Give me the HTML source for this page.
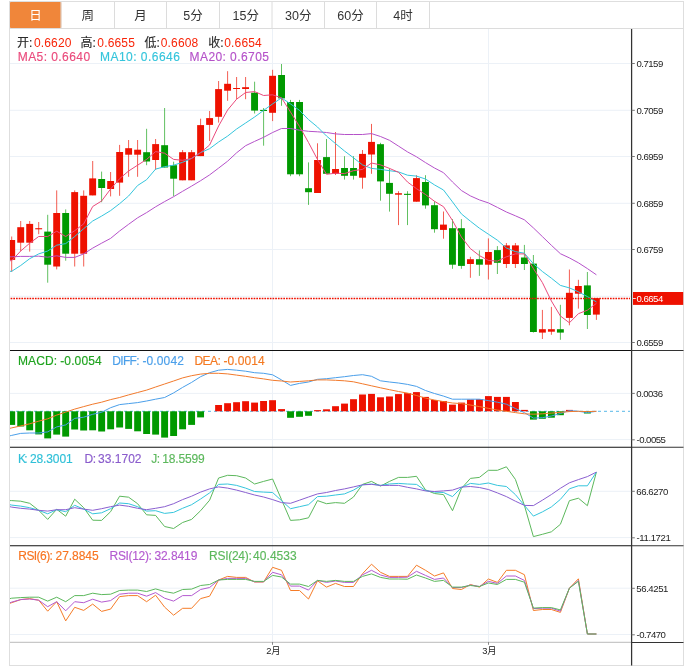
<!DOCTYPE html><html><head><meta charset="utf-8"><title>AUD/USD</title>
<style>html,body{margin:0;padding:0;background:#fff}svg{display:block;will-change:transform}text{font-family:"Liberation Sans","Noto Sans CJK SC",sans-serif}</style></head><body>
<svg width="692" height="671" viewBox="0 0 692 671">
<rect width="692" height="671" fill="#fff"/>
<rect x="9.5" y="1.5" width="674" height="664" fill="none" stroke="#dedede" stroke-width="1"/>
<line x1="9.5" y1="28.5" x2="683.5" y2="28.5" stroke="#dcdcdc"/>
<rect x="10" y="2" width="51.3" height="26" rx="0.8" fill="#f0863a"/>
<line x1="61" y1="2" x2="61" y2="28" stroke="#dcdcdc"/>
<line x1="114.5" y1="2" x2="114.5" y2="28" stroke="#dcdcdc"/>
<line x1="166.5" y1="2" x2="166.5" y2="28" stroke="#dcdcdc"/>
<line x1="219.5" y1="2" x2="219.5" y2="28" stroke="#dcdcdc"/>
<line x1="272" y1="2" x2="272" y2="28" stroke="#dcdcdc"/>
<line x1="324.5" y1="2" x2="324.5" y2="28" stroke="#dcdcdc"/>
<line x1="376.5" y1="2" x2="376.5" y2="28" stroke="#dcdcdc"/>
<line x1="429.5" y1="2" x2="429.5" y2="28" stroke="#dcdcdc"/>
<text x="35.5" y="20" font-size="12.5" text-anchor="middle" fill="#fff">日</text>
<text x="87.8" y="20" font-size="12.5" text-anchor="middle" fill="#333">周</text>
<text x="140.5" y="20" font-size="12.5" text-anchor="middle" fill="#333">月</text>
<text x="193.0" y="20" font-size="12.5" text-anchor="middle" fill="#333">5分</text>
<text x="245.8" y="20" font-size="12.5" text-anchor="middle" fill="#333">15分</text>
<text x="298.2" y="20" font-size="12.5" text-anchor="middle" fill="#333">30分</text>
<text x="350.5" y="20" font-size="12.5" text-anchor="middle" fill="#333">60分</text>
<text x="403.0" y="20" font-size="12.5" text-anchor="middle" fill="#333">4时</text>
<defs><clipPath id="cp"><rect x="10" y="29" width="621.5" height="614"/></clipPath></defs>
<line x1="10" y1="63.5" x2="631" y2="63.5" stroke="#ecf1f7" stroke-width="1"/>
<line x1="10" y1="110.3" x2="631" y2="110.3" stroke="#ecf1f7" stroke-width="1"/>
<line x1="10" y1="156.5" x2="631" y2="156.5" stroke="#ecf1f7" stroke-width="1"/>
<line x1="10" y1="203.3" x2="631" y2="203.3" stroke="#ecf1f7" stroke-width="1"/>
<line x1="10" y1="249.5" x2="631" y2="249.5" stroke="#ecf1f7" stroke-width="1"/>
<line x1="10" y1="296.3" x2="631" y2="296.3" stroke="#ecf1f7" stroke-width="1"/>
<line x1="10" y1="342.5" x2="631" y2="342.5" stroke="#ecf1f7" stroke-width="1"/>
<line x1="10" y1="393.4" x2="631" y2="393.4" stroke="#ecf1f7" stroke-width="1"/>
<line x1="10" y1="439.6" x2="631" y2="439.6" stroke="#ecf1f7" stroke-width="1"/>
<line x1="10" y1="491.3" x2="631" y2="491.3" stroke="#ecf1f7" stroke-width="1"/>
<line x1="10" y1="537.6" x2="631" y2="537.6" stroke="#ecf1f7" stroke-width="1"/>
<line x1="10" y1="588.2" x2="631" y2="588.2" stroke="#ecf1f7" stroke-width="1"/>
<line x1="10" y1="634.5" x2="631" y2="634.5" stroke="#ecf1f7" stroke-width="1"/>
<line x1="272.5" y1="29" x2="272.5" y2="642" stroke="#ecf1f7" stroke-width="1"/>
<line x1="488.5" y1="29" x2="488.5" y2="642" stroke="#ecf1f7" stroke-width="1"/>
<g clip-path="url(#cp)">
<line x1="11.7" y1="236.5" x2="11.7" y2="271.9" stroke="#ee1100" stroke-width="1" stroke-opacity="0.68"/>
<rect x="8.25" y="240.0" width="6.9" height="19.9" fill="#ee1100"/>
<line x1="20.7" y1="221.0" x2="20.7" y2="251.0" stroke="#ee1100" stroke-width="1" stroke-opacity="0.68"/>
<rect x="17.25" y="227.2" width="6.9" height="15.5" fill="#ee1100"/>
<line x1="29.7" y1="221.0" x2="29.7" y2="251.6" stroke="#ee1100" stroke-width="1" stroke-opacity="0.68"/>
<rect x="26.24" y="223.9" width="6.9" height="18.8" fill="#ee1100"/>
<line x1="38.7" y1="222.0" x2="38.7" y2="234.2" stroke="#ee1100" stroke-width="1" stroke-opacity="0.68"/>
<rect x="35.23" y="228.2" width="6.9" height="1.1" fill="#ee1100"/>
<line x1="47.7" y1="214.8" x2="47.7" y2="282.7" stroke="#009900" stroke-width="1" stroke-opacity="0.62"/>
<rect x="44.23" y="231.6" width="6.9" height="33.1" fill="#009900"/>
<line x1="56.7" y1="190.4" x2="56.7" y2="269.4" stroke="#ee1100" stroke-width="1" stroke-opacity="0.68"/>
<rect x="53.22" y="213.0" width="6.9" height="53.5" fill="#ee1100"/>
<line x1="65.7" y1="209.4" x2="65.7" y2="260.7" stroke="#009900" stroke-width="1" stroke-opacity="0.62"/>
<rect x="62.22" y="213.0" width="6.9" height="40.7" fill="#009900"/>
<line x1="74.7" y1="190.4" x2="74.7" y2="266.5" stroke="#ee1100" stroke-width="1" stroke-opacity="0.68"/>
<rect x="71.21" y="192.1" width="6.9" height="61.6" fill="#ee1100"/>
<line x1="83.7" y1="190.4" x2="83.7" y2="266.5" stroke="#ee1100" stroke-width="1" stroke-opacity="0.68"/>
<rect x="80.21" y="195.8" width="6.9" height="57.9" fill="#ee1100"/>
<line x1="92.7" y1="161.0" x2="92.7" y2="195.4" stroke="#ee1100" stroke-width="1" stroke-opacity="0.68"/>
<rect x="89.20" y="178.4" width="6.9" height="17.0" fill="#ee1100"/>
<line x1="101.6" y1="171.6" x2="101.6" y2="202.2" stroke="#009900" stroke-width="1" stroke-opacity="0.62"/>
<rect x="98.20" y="179.0" width="6.9" height="9.0" fill="#009900"/>
<line x1="110.6" y1="172.0" x2="110.6" y2="196.4" stroke="#ee1100" stroke-width="1" stroke-opacity="0.68"/>
<rect x="107.19" y="181.0" width="6.9" height="8.0" fill="#ee1100"/>
<line x1="119.6" y1="144.9" x2="119.6" y2="195.8" stroke="#ee1100" stroke-width="1" stroke-opacity="0.68"/>
<rect x="116.19" y="152.0" width="6.9" height="30.6" fill="#ee1100"/>
<line x1="128.6" y1="140.0" x2="128.6" y2="176.8" stroke="#ee1100" stroke-width="1" stroke-opacity="0.68"/>
<rect x="125.18" y="148.2" width="6.9" height="6.5" fill="#ee1100"/>
<line x1="137.6" y1="140.0" x2="137.6" y2="176.8" stroke="#ee1100" stroke-width="1" stroke-opacity="0.68"/>
<rect x="134.18" y="149.7" width="6.9" height="5.0" fill="#ee1100"/>
<line x1="146.6" y1="128.8" x2="146.6" y2="165.2" stroke="#009900" stroke-width="1" stroke-opacity="0.62"/>
<rect x="143.17" y="152.2" width="6.9" height="9.3" fill="#009900"/>
<line x1="155.6" y1="139.0" x2="155.6" y2="170.0" stroke="#ee1100" stroke-width="1" stroke-opacity="0.68"/>
<rect x="152.17" y="144.1" width="6.9" height="15.9" fill="#ee1100"/>
<line x1="164.6" y1="108.0" x2="164.6" y2="167.5" stroke="#009900" stroke-width="1" stroke-opacity="0.62"/>
<rect x="161.16" y="145.2" width="6.9" height="22.3" fill="#009900"/>
<line x1="173.6" y1="161.7" x2="173.6" y2="196.2" stroke="#009900" stroke-width="1" stroke-opacity="0.62"/>
<rect x="170.16" y="165.2" width="6.9" height="13.5" fill="#009900"/>
<line x1="182.6" y1="150.0" x2="182.6" y2="180.3" stroke="#ee1100" stroke-width="1" stroke-opacity="0.68"/>
<rect x="179.15" y="152.2" width="6.9" height="28.1" fill="#ee1100"/>
<line x1="191.6" y1="150.0" x2="191.6" y2="180.3" stroke="#ee1100" stroke-width="1" stroke-opacity="0.68"/>
<rect x="188.15" y="152.2" width="6.9" height="28.1" fill="#ee1100"/>
<line x1="200.6" y1="118.7" x2="200.6" y2="156.1" stroke="#ee1100" stroke-width="1" stroke-opacity="0.68"/>
<rect x="197.14" y="125.1" width="6.9" height="31.0" fill="#ee1100"/>
<line x1="209.6" y1="111.0" x2="209.6" y2="141.0" stroke="#ee1100" stroke-width="1" stroke-opacity="0.68"/>
<rect x="206.14" y="118.1" width="6.9" height="6.8" fill="#ee1100"/>
<line x1="218.6" y1="81.0" x2="218.6" y2="122.6" stroke="#ee1100" stroke-width="1" stroke-opacity="0.68"/>
<rect x="215.13" y="89.1" width="6.9" height="27.7" fill="#ee1100"/>
<line x1="227.6" y1="71.2" x2="227.6" y2="100.8" stroke="#ee1100" stroke-width="1" stroke-opacity="0.68"/>
<rect x="224.13" y="83.8" width="6.9" height="6.9" fill="#ee1100"/>
<line x1="236.6" y1="77.0" x2="236.6" y2="99.2" stroke="#ee1100" stroke-width="1" stroke-opacity="0.68"/>
<rect x="233.12" y="88.0" width="6.9" height="1.0" fill="#ee1100"/>
<line x1="245.6" y1="77.0" x2="245.6" y2="99.2" stroke="#ee1100" stroke-width="1" stroke-opacity="0.68"/>
<rect x="242.12" y="87.2" width="6.9" height="1.8" fill="#ee1100"/>
<line x1="254.6" y1="81.7" x2="254.6" y2="113.5" stroke="#009900" stroke-width="1" stroke-opacity="0.62"/>
<rect x="251.11" y="92.7" width="6.9" height="17.9" fill="#009900"/>
<line x1="263.6" y1="108.0" x2="263.6" y2="145.7" stroke="#009900" stroke-width="1" stroke-opacity="0.62"/>
<rect x="260.11" y="109.9" width="6.9" height="1.1" fill="#009900"/>
<line x1="272.6" y1="69.8" x2="272.6" y2="121.1" stroke="#ee1100" stroke-width="1" stroke-opacity="0.68"/>
<rect x="269.10" y="75.8" width="6.9" height="37.0" fill="#ee1100"/>
<line x1="281.5" y1="64.0" x2="281.5" y2="105.8" stroke="#009900" stroke-width="1" stroke-opacity="0.62"/>
<rect x="278.10" y="75.0" width="6.9" height="23.4" fill="#009900"/>
<line x1="290.5" y1="99.9" x2="290.5" y2="176.2" stroke="#009900" stroke-width="1" stroke-opacity="0.62"/>
<rect x="287.09" y="102.0" width="6.9" height="72.3" fill="#009900"/>
<line x1="299.5" y1="99.9" x2="299.5" y2="176.2" stroke="#009900" stroke-width="1" stroke-opacity="0.62"/>
<rect x="296.09" y="102.0" width="6.9" height="72.3" fill="#009900"/>
<line x1="308.5" y1="162.4" x2="308.5" y2="204.9" stroke="#009900" stroke-width="1" stroke-opacity="0.62"/>
<rect x="305.08" y="188.2" width="6.9" height="4.0" fill="#009900"/>
<line x1="317.5" y1="143.3" x2="317.5" y2="193.0" stroke="#ee1100" stroke-width="1" stroke-opacity="0.68"/>
<rect x="314.08" y="160.0" width="6.9" height="33.0" fill="#ee1100"/>
<line x1="326.5" y1="139.0" x2="326.5" y2="173.8" stroke="#009900" stroke-width="1" stroke-opacity="0.62"/>
<rect x="323.07" y="157.1" width="6.9" height="16.7" fill="#009900"/>
<line x1="335.5" y1="132.0" x2="335.5" y2="175.0" stroke="#ee1100" stroke-width="1" stroke-opacity="0.68"/>
<rect x="332.07" y="169.0" width="6.9" height="4.8" fill="#ee1100"/>
<line x1="344.5" y1="156.2" x2="344.5" y2="179.6" stroke="#009900" stroke-width="1" stroke-opacity="0.62"/>
<rect x="341.06" y="168.0" width="6.9" height="7.8" fill="#009900"/>
<line x1="353.5" y1="156.2" x2="353.5" y2="179.6" stroke="#009900" stroke-width="1" stroke-opacity="0.62"/>
<rect x="350.06" y="168.0" width="6.9" height="7.8" fill="#009900"/>
<line x1="362.5" y1="150.0" x2="362.5" y2="188.7" stroke="#ee1100" stroke-width="1" stroke-opacity="0.68"/>
<rect x="359.05" y="153.9" width="6.9" height="23.8" fill="#ee1100"/>
<line x1="371.5" y1="123.9" x2="371.5" y2="173.8" stroke="#ee1100" stroke-width="1" stroke-opacity="0.68"/>
<rect x="368.05" y="141.9" width="6.9" height="12.6" fill="#ee1100"/>
<line x1="380.5" y1="142.8" x2="380.5" y2="200.7" stroke="#009900" stroke-width="1" stroke-opacity="0.62"/>
<rect x="377.04" y="144.2" width="6.9" height="37.2" fill="#009900"/>
<line x1="389.5" y1="168.4" x2="389.5" y2="211.6" stroke="#009900" stroke-width="1" stroke-opacity="0.62"/>
<rect x="386.04" y="182.9" width="6.9" height="10.9" fill="#009900"/>
<line x1="398.5" y1="191.2" x2="398.5" y2="225.1" stroke="#ee1100" stroke-width="1" stroke-opacity="0.68"/>
<rect x="395.03" y="193.2" width="6.9" height="1.5" fill="#ee1100"/>
<line x1="407.5" y1="191.2" x2="407.5" y2="225.1" stroke="#009900" stroke-width="1" stroke-opacity="0.62"/>
<rect x="404.03" y="193.8" width="6.9" height="1.1" fill="#009900"/>
<line x1="416.5" y1="175.2" x2="416.5" y2="201.7" stroke="#ee1100" stroke-width="1" stroke-opacity="0.68"/>
<rect x="413.02" y="178.1" width="6.9" height="23.6" fill="#ee1100"/>
<line x1="425.5" y1="175.2" x2="425.5" y2="208.7" stroke="#009900" stroke-width="1" stroke-opacity="0.62"/>
<rect x="422.02" y="182.0" width="6.9" height="23.4" fill="#009900"/>
<line x1="434.5" y1="201.3" x2="434.5" y2="232.7" stroke="#009900" stroke-width="1" stroke-opacity="0.62"/>
<rect x="431.01" y="205.2" width="6.9" height="24.0" fill="#009900"/>
<line x1="443.5" y1="211.5" x2="443.5" y2="238.7" stroke="#ee1100" stroke-width="1" stroke-opacity="0.68"/>
<rect x="440.01" y="224.6" width="6.9" height="5.3" fill="#ee1100"/>
<line x1="452.5" y1="219.1" x2="452.5" y2="268.8" stroke="#009900" stroke-width="1" stroke-opacity="0.62"/>
<rect x="449.00" y="228.2" width="6.9" height="36.5" fill="#009900"/>
<line x1="461.4" y1="219.1" x2="461.4" y2="268.8" stroke="#009900" stroke-width="1" stroke-opacity="0.62"/>
<rect x="458.00" y="228.2" width="6.9" height="37.7" fill="#009900"/>
<line x1="470.4" y1="256.8" x2="470.4" y2="277.8" stroke="#ee1100" stroke-width="1" stroke-opacity="0.68"/>
<rect x="466.99" y="259.2" width="6.9" height="4.8" fill="#ee1100"/>
<line x1="479.4" y1="250.4" x2="479.4" y2="275.9" stroke="#009900" stroke-width="1" stroke-opacity="0.62"/>
<rect x="475.99" y="259.2" width="6.9" height="5.5" fill="#009900"/>
<line x1="488.4" y1="238.4" x2="488.4" y2="279.5" stroke="#ee1100" stroke-width="1" stroke-opacity="0.68"/>
<rect x="484.98" y="252.0" width="6.9" height="12.7" fill="#ee1100"/>
<line x1="497.4" y1="246.1" x2="497.4" y2="274.0" stroke="#009900" stroke-width="1" stroke-opacity="0.62"/>
<rect x="493.98" y="250.1" width="6.9" height="12.7" fill="#009900"/>
<line x1="506.4" y1="243.0" x2="506.4" y2="268.0" stroke="#ee1100" stroke-width="1" stroke-opacity="0.68"/>
<rect x="502.97" y="245.4" width="6.9" height="18.6" fill="#ee1100"/>
<line x1="515.4" y1="243.0" x2="515.4" y2="268.0" stroke="#ee1100" stroke-width="1" stroke-opacity="0.68"/>
<rect x="511.97" y="245.4" width="6.9" height="18.6" fill="#ee1100"/>
<line x1="524.4" y1="244.9" x2="524.4" y2="270.0" stroke="#009900" stroke-width="1" stroke-opacity="0.62"/>
<rect x="520.96" y="257.5" width="6.9" height="6.5" fill="#009900"/>
<line x1="533.4" y1="255.0" x2="533.4" y2="332.6" stroke="#009900" stroke-width="1" stroke-opacity="0.62"/>
<rect x="529.96" y="263.6" width="6.9" height="68.4" fill="#009900"/>
<line x1="542.4" y1="309.9" x2="542.4" y2="339.0" stroke="#ee1100" stroke-width="1" stroke-opacity="0.68"/>
<rect x="538.95" y="329.2" width="6.9" height="3.4" fill="#ee1100"/>
<line x1="551.4" y1="306.9" x2="551.4" y2="334.8" stroke="#ee1100" stroke-width="1" stroke-opacity="0.68"/>
<rect x="547.95" y="329.2" width="6.9" height="2.5" fill="#ee1100"/>
<line x1="560.4" y1="304.8" x2="560.4" y2="339.8" stroke="#009900" stroke-width="1" stroke-opacity="0.62"/>
<rect x="556.94" y="329.2" width="6.9" height="3.4" fill="#009900"/>
<line x1="569.4" y1="269.5" x2="569.4" y2="325.3" stroke="#ee1100" stroke-width="1" stroke-opacity="0.68"/>
<rect x="565.94" y="292.8" width="6.9" height="25.1" fill="#ee1100"/>
<line x1="578.4" y1="279.8" x2="578.4" y2="308.6" stroke="#ee1100" stroke-width="1" stroke-opacity="0.68"/>
<rect x="574.93" y="286.0" width="6.9" height="7.7" fill="#ee1100"/>
<line x1="587.4" y1="272.0" x2="587.4" y2="329.0" stroke="#009900" stroke-width="1" stroke-opacity="0.62"/>
<rect x="583.93" y="285.4" width="6.9" height="29.6" fill="#009900"/>
<line x1="596.4" y1="298.2" x2="596.4" y2="319.9" stroke="#ee1100" stroke-width="1" stroke-opacity="0.68"/>
<rect x="592.92" y="298.2" width="6.9" height="16.4" fill="#ee1100"/>
<polyline fill="none" stroke="#b552c9" stroke-width="1.0" stroke-linejoin="round" points="10.0,256.8 11.7,256.8 20.7,256.4 29.7,256.4 38.7,256.2 47.7,257.2 56.7,255.8 65.7,257.4 74.7,257.4 83.7,253.9 92.7,248.1 101.6,243.2 110.6,238.4 119.6,231.0 128.6,224.3 137.6,217.8 146.6,212.6 155.6,206.8 164.6,201.6 173.6,196.7 182.6,191.3 191.6,186.1 200.6,180.7 209.6,174.9 218.6,168.1 227.6,161.2 236.6,152.8 245.6,145.7 254.6,141.4 263.6,137.3 272.6,132.5 281.5,128.5 290.5,128.5 299.5,130.2 308.5,131.3 317.5,131.8 326.5,132.5 335.5,133.9 344.5,134.5 353.5,134.5 362.5,134.5 371.5,133.6 380.5,136.5 389.5,140.3 398.5,146.1 407.5,151.9 416.5,156.8 425.5,162.6 434.5,168.0 443.5,172.7 452.5,182.0 461.4,190.5 470.4,195.9 479.4,199.9 488.4,202.9 497.4,207.4 506.4,212.0 515.4,215.8 524.4,219.8 533.4,227.9 542.4,236.6 551.4,245.3 560.4,253.7 569.4,257.9 578.4,262.8 587.4,268.6 596.4,274.8"/>
<polyline fill="none" stroke="#35c5dc" stroke-width="1.0" stroke-linejoin="round" points="10.0,271.3 11.7,271.3 20.7,265.5 29.7,258.7 38.7,253.9 47.7,251.0 56.7,245.2 65.7,243.6 74.7,236.5 83.7,228.7 92.7,221.0 101.6,216.1 110.6,210.6 119.6,203.7 128.6,196.0 137.6,185.5 146.6,179.7 155.6,169.1 164.6,166.7 173.6,165.2 182.6,162.3 191.6,158.4 200.6,152.6 209.6,148.7 218.6,142.0 227.6,136.1 236.6,129.0 245.6,123.0 254.6,117.0 263.6,110.4 272.6,103.9 281.5,97.9 290.5,103.9 299.5,110.4 308.5,119.6 317.5,127.0 326.5,136.0 335.5,143.6 344.5,151.0 353.5,157.8 362.5,164.9 371.5,168.4 380.5,169.4 389.5,170.7 398.5,171.9 407.5,175.2 416.5,176.1 425.5,179.0 434.5,184.9 443.5,190.0 452.5,201.9 461.4,213.9 470.4,221.2 479.4,228.2 488.4,234.2 497.4,240.2 506.4,248.0 515.4,251.6 524.4,253.2 533.4,263.7 542.4,271.5 551.4,278.2 560.4,285.4 569.4,287.9 578.4,291.8 587.4,296.6 596.4,301.9"/>
<polyline fill="none" stroke="#ea4a7c" stroke-width="1.0" stroke-linejoin="round" points="10.0,260.7 11.7,260.7 20.7,251.0 29.7,243.2 38.7,236.5 47.7,236.5 56.7,231.2 65.7,236.5 74.7,230.7 83.7,223.9 92.7,206.5 101.6,201.0 110.6,189.0 119.6,178.7 128.6,171.0 137.6,165.2 146.6,159.4 155.6,151.6 164.6,153.2 173.6,159.4 182.6,160.3 191.6,158.4 200.6,152.6 209.6,145.0 218.6,126.0 227.6,110.0 236.6,99.2 245.6,92.5 254.6,91.6 263.6,95.5 272.6,94.8 281.5,97.9 290.5,112.0 299.5,126.5 308.5,142.5 317.5,159.5 326.5,174.3 335.5,173.2 344.5,173.6 353.5,170.7 362.5,169.4 371.5,163.0 380.5,164.9 389.5,168.4 398.5,172.3 407.5,182.0 416.5,188.7 425.5,194.5 434.5,201.3 443.5,206.7 452.5,220.5 461.4,237.0 470.4,248.6 479.4,255.6 488.4,260.4 497.4,261.1 506.4,256.8 515.4,253.9 524.4,253.9 533.4,268.6 542.4,282.6 551.4,301.0 560.4,316.0 569.4,322.8 578.4,313.7 587.4,310.2 596.4,303.4"/>
<line x1="10.6" y1="298.5" x2="630" y2="298.5" stroke="#ee1100" stroke-width="1.3" stroke-dasharray="1.7,1"/>
<line x1="10" y1="411.3" x2="630" y2="411.3" stroke="#58b8e8" stroke-width="1" stroke-dasharray="3,3"/>
<rect x="8.25" y="411.3" width="6.9" height="13.6" fill="#009900"/>
<rect x="17.25" y="411.3" width="6.9" height="15.2" fill="#009900"/>
<rect x="26.24" y="411.3" width="6.9" height="19.0" fill="#009900"/>
<rect x="35.23" y="411.3" width="6.9" height="23.1" fill="#009900"/>
<rect x="44.23" y="411.3" width="6.9" height="27.1" fill="#009900"/>
<rect x="53.22" y="411.3" width="6.9" height="23.3" fill="#009900"/>
<rect x="62.22" y="411.3" width="6.9" height="25.3" fill="#009900"/>
<rect x="71.21" y="411.3" width="6.9" height="18.2" fill="#009900"/>
<rect x="80.21" y="411.3" width="6.9" height="19.2" fill="#009900"/>
<rect x="89.20" y="411.3" width="6.9" height="19.0" fill="#009900"/>
<rect x="98.20" y="411.3" width="6.9" height="20.2" fill="#009900"/>
<rect x="107.19" y="411.3" width="6.9" height="18.0" fill="#009900"/>
<rect x="116.19" y="411.3" width="6.9" height="16.2" fill="#009900"/>
<rect x="125.18" y="411.3" width="6.9" height="17.6" fill="#009900"/>
<rect x="134.18" y="411.3" width="6.9" height="20.0" fill="#009900"/>
<rect x="143.17" y="411.3" width="6.9" height="22.7" fill="#009900"/>
<rect x="152.17" y="411.3" width="6.9" height="23.3" fill="#009900"/>
<rect x="161.16" y="411.3" width="6.9" height="26.3" fill="#009900"/>
<rect x="170.16" y="411.3" width="6.9" height="24.7" fill="#009900"/>
<rect x="179.15" y="411.3" width="6.9" height="18.0" fill="#009900"/>
<rect x="188.15" y="411.3" width="6.9" height="13.6" fill="#009900"/>
<rect x="197.14" y="411.3" width="6.9" height="6.1" fill="#009900"/>
<rect x="215.13" y="405.0" width="6.9" height="6.3" fill="#ee1100"/>
<rect x="224.13" y="403.2" width="6.9" height="8.1" fill="#ee1100"/>
<rect x="233.12" y="402.2" width="6.9" height="9.1" fill="#ee1100"/>
<rect x="242.12" y="401.2" width="6.9" height="10.1" fill="#ee1100"/>
<rect x="251.11" y="402.6" width="6.9" height="8.7" fill="#ee1100"/>
<rect x="260.11" y="401.0" width="6.9" height="10.3" fill="#ee1100"/>
<rect x="269.10" y="400.2" width="6.9" height="11.1" fill="#ee1100"/>
<rect x="278.10" y="409.1" width="6.9" height="2.2" fill="#ee1100"/>
<rect x="287.09" y="411.3" width="6.9" height="6.5" fill="#009900"/>
<rect x="296.09" y="411.3" width="6.9" height="5.5" fill="#009900"/>
<rect x="305.08" y="411.3" width="6.9" height="4.5" fill="#009900"/>
<rect x="314.08" y="410.1" width="6.9" height="1.2" fill="#ee1100"/>
<rect x="323.07" y="409.3" width="6.9" height="2.0" fill="#ee1100"/>
<rect x="332.07" y="406.2" width="6.9" height="5.1" fill="#ee1100"/>
<rect x="341.06" y="403.6" width="6.9" height="7.7" fill="#ee1100"/>
<rect x="350.06" y="399.2" width="6.9" height="12.1" fill="#ee1100"/>
<rect x="359.05" y="394.5" width="6.9" height="16.8" fill="#ee1100"/>
<rect x="368.05" y="393.9" width="6.9" height="17.4" fill="#ee1100"/>
<rect x="377.04" y="397.3" width="6.9" height="14.0" fill="#ee1100"/>
<rect x="386.04" y="396.5" width="6.9" height="14.8" fill="#ee1100"/>
<rect x="395.03" y="394.1" width="6.9" height="17.2" fill="#ee1100"/>
<rect x="404.03" y="393.1" width="6.9" height="18.2" fill="#ee1100"/>
<rect x="413.02" y="392.1" width="6.9" height="19.2" fill="#ee1100"/>
<rect x="422.02" y="396.9" width="6.9" height="14.4" fill="#ee1100"/>
<rect x="431.01" y="400.0" width="6.9" height="11.3" fill="#ee1100"/>
<rect x="440.01" y="401.0" width="6.9" height="10.3" fill="#ee1100"/>
<rect x="449.00" y="404.6" width="6.9" height="6.7" fill="#ee1100"/>
<rect x="458.00" y="402.6" width="6.9" height="8.7" fill="#ee1100"/>
<rect x="466.99" y="399.6" width="6.9" height="11.7" fill="#ee1100"/>
<rect x="475.99" y="399.2" width="6.9" height="12.1" fill="#ee1100"/>
<rect x="484.98" y="396.1" width="6.9" height="15.2" fill="#ee1100"/>
<rect x="493.98" y="396.9" width="6.9" height="14.4" fill="#ee1100"/>
<rect x="502.97" y="396.9" width="6.9" height="14.4" fill="#ee1100"/>
<rect x="511.97" y="402.0" width="6.9" height="9.3" fill="#ee1100"/>
<rect x="520.96" y="409.9" width="6.9" height="1.4" fill="#ee1100"/>
<rect x="529.96" y="411.3" width="6.9" height="8.3" fill="#009900"/>
<rect x="538.95" y="411.3" width="6.9" height="7.5" fill="#009900"/>
<rect x="547.95" y="411.3" width="6.9" height="6.4" fill="#009900"/>
<rect x="556.94" y="411.3" width="6.9" height="3.9" fill="#009900"/>
<rect x="565.94" y="409.9" width="6.9" height="1.4" fill="#ee1100"/>
<rect x="583.93" y="411.3" width="6.9" height="2.2" fill="#009900"/>
<polyline fill="none" stroke="#4a9fea" stroke-width="1.0" stroke-linejoin="round" points="10.0,435.8 11.7,435.4 20.7,433.4 29.7,433.0 38.7,433.0 47.7,431.9 56.7,426.9 65.7,424.9 74.7,418.4 83.7,417.2 92.7,414.3 101.6,412.3 110.6,407.7 119.6,404.6 128.6,403.6 137.6,402.6 146.6,401.0 155.6,399.2 164.6,397.5 173.6,392.9 182.6,387.4 191.6,382.4 200.6,376.7 209.6,372.7 218.6,370.2 227.6,369.4 236.6,370.2 245.6,371.2 254.6,372.7 263.6,373.3 272.6,374.8 281.5,379.9 290.5,385.4 299.5,383.4 308.5,382.0 317.5,379.3 326.5,378.7 335.5,377.7 344.5,376.7 353.5,375.5 362.5,374.7 371.5,376.3 380.5,380.8 389.5,382.0 398.5,383.0 407.5,384.4 416.5,386.4 425.5,390.5 434.5,393.5 443.5,396.1 452.5,399.2 461.4,399.2 470.4,399.2 479.4,399.2 488.4,400.6 497.4,402.2 506.4,404.2 515.4,408.5 524.4,412.6 533.4,418.1 542.4,417.7 551.4,416.0 560.4,413.5 569.4,410.6 578.4,411.3 587.4,412.6 596.4,411.3"/>
<polyline fill="none" stroke="#f27a2c" stroke-width="1.0" stroke-linejoin="round" points="10.0,428.3 11.7,427.9 20.7,425.9 29.7,423.8 38.7,421.2 47.7,418.8 56.7,415.1 65.7,412.1 74.7,409.1 83.7,406.6 92.7,404.2 101.6,402.2 110.6,399.6 119.6,397.5 128.6,394.9 137.6,392.5 146.6,390.1 155.6,387.0 164.6,384.0 173.6,381.0 182.6,377.9 191.6,375.7 200.6,374.1 209.6,373.3 218.6,373.3 227.6,373.9 236.6,375.1 245.6,376.3 254.6,377.7 263.6,378.9 272.6,380.3 281.5,381.0 290.5,382.0 299.5,381.4 308.5,380.8 317.5,379.9 326.5,379.9 335.5,380.3 344.5,380.8 353.5,381.8 362.5,383.8 371.5,385.8 380.5,387.8 389.5,389.7 398.5,391.5 407.5,393.1 416.5,395.5 425.5,398.1 434.5,400.0 443.5,401.6 452.5,403.0 461.4,403.6 470.4,405.0 479.4,406.6 488.4,408.3 497.4,410.1 506.4,411.3 515.4,412.6 524.4,413.8 533.4,414.2 542.4,413.8 551.4,413.1 560.4,412.3 569.4,411.6 578.4,411.3 587.4,411.6 596.4,411.3"/>
<polyline fill="none" stroke="#5cb85c" stroke-width="1.0" stroke-linejoin="round" points="10.0,500.6 11.7,500.6 20.7,501.2 29.7,503.3 38.7,510.3 47.7,519.4 56.7,509.3 65.7,516.2 74.7,499.2 83.7,507.7 92.7,520.2 101.6,520.4 110.6,511.7 119.6,496.2 128.6,497.2 137.6,503.7 146.6,514.8 155.6,515.4 164.6,526.5 173.6,528.5 182.6,522.5 191.6,519.4 200.6,510.7 209.6,500.2 218.6,478.0 227.6,475.3 236.6,475.7 245.6,478.0 254.6,484.0 263.6,481.4 272.6,479.0 281.5,499.6 290.5,520.4 299.5,519.8 308.5,517.8 317.5,500.6 326.5,503.7 335.5,502.6 344.5,503.3 353.5,497.0 362.5,484.4 371.5,481.4 380.5,486.1 389.5,481.4 398.5,477.4 407.5,477.4 416.5,476.3 425.5,489.9 434.5,493.5 443.5,494.6 452.5,510.7 461.4,488.5 470.4,478.4 479.4,477.4 488.4,470.3 497.4,470.3 506.4,466.8 515.4,479.4 524.4,505.4 533.4,536.6 542.4,534.3 551.4,531.8 560.4,524.3 569.4,500.7 578.4,498.2 587.4,505.7 596.4,472.1"/>
<polyline fill="none" stroke="#35c5dc" stroke-width="1.0" stroke-linejoin="round" points="10.0,504.7 11.7,505.1 20.7,506.1 29.7,507.7 38.7,510.3 47.7,513.8 56.7,509.7 65.7,511.7 74.7,505.3 83.7,509.1 92.7,513.8 101.6,512.8 110.6,508.7 119.6,503.0 128.6,503.7 137.6,506.7 146.6,511.1 155.6,510.7 164.6,513.4 173.6,512.4 182.6,508.3 191.6,504.7 200.6,499.0 209.6,492.9 218.6,484.4 227.6,484.0 236.6,485.4 245.6,488.1 254.6,491.5 263.6,492.1 272.6,492.5 281.5,500.6 290.5,508.7 299.5,506.7 308.5,504.7 317.5,496.6 326.5,496.2 335.5,495.0 344.5,493.9 353.5,490.1 362.5,484.8 371.5,484.0 380.5,485.4 389.5,484.0 398.5,483.4 407.5,484.0 416.5,484.4 425.5,490.5 434.5,492.1 443.5,492.5 452.5,496.6 461.4,487.5 470.4,483.4 479.4,484.4 488.4,483.0 497.4,485.4 506.4,486.5 515.4,494.6 524.4,505.4 533.4,516.1 542.4,511.9 551.4,506.9 560.4,499.4 569.4,488.8 578.4,485.8 587.4,485.8 596.4,472.1"/>
<polyline fill="none" stroke="#8a5fd0" stroke-width="1.0" stroke-linejoin="round" points="10.0,506.7 11.7,507.1 20.7,508.3 29.7,509.1 38.7,510.3 47.7,511.1 56.7,509.7 65.7,509.7 74.7,507.7 83.7,509.1 92.7,510.3 101.6,508.7 110.6,506.7 119.6,505.1 128.6,506.3 137.6,508.3 146.6,509.7 155.6,508.3 164.6,506.7 173.6,503.7 182.6,499.6 191.6,496.2 200.6,492.1 209.6,488.9 218.6,486.9 227.6,488.1 236.6,490.1 245.6,492.5 254.6,495.0 263.6,497.0 272.6,499.6 281.5,502.6 290.5,503.3 299.5,500.2 308.5,497.0 317.5,493.9 326.5,492.5 335.5,490.5 344.5,488.9 353.5,486.9 362.5,484.8 371.5,484.4 380.5,485.4 389.5,485.4 398.5,485.4 407.5,487.3 416.5,488.9 425.5,490.9 434.5,491.5 443.5,490.9 452.5,490.1 461.4,487.1 470.4,486.5 479.4,487.5 488.4,489.5 497.4,492.9 506.4,496.6 515.4,501.2 524.4,505.4 533.4,505.6 542.4,500.2 551.4,494.5 560.4,488.3 569.4,482.8 578.4,479.6 587.4,476.6 596.4,472.1"/>
<polyline fill="none" stroke="#f57c28" stroke-width="1.0" stroke-linejoin="round" points="10.0,603.3 11.7,602.7 20.7,599.6 29.7,598.6 38.7,600.2 47.7,611.2 56.7,601.7 65.7,620.9 74.7,607.3 83.7,610.4 92.7,604.1 101.6,611.4 110.6,609.1 119.6,596.6 128.6,595.6 137.6,595.6 146.6,601.7 155.6,595.2 164.6,607.1 173.6,615.2 182.6,608.3 191.6,608.3 200.6,598.6 209.6,596.2 218.6,580.0 227.6,576.4 236.6,577.4 245.6,577.4 254.6,582.0 263.6,582.0 272.6,567.3 281.5,570.3 290.5,590.5 299.5,590.5 308.5,599.0 317.5,580.8 326.5,587.1 335.5,583.4 344.5,586.5 353.5,586.5 362.5,573.7 371.5,564.2 380.5,572.3 389.5,576.4 398.5,576.4 407.5,576.4 416.5,565.2 425.5,570.3 434.5,576.0 443.5,572.9 452.5,588.5 461.4,589.5 470.4,584.5 479.4,587.1 488.4,579.0 497.4,582.4 506.4,570.3 515.4,570.3 524.4,574.7 533.4,610.5 542.4,609.5 551.4,609.5 560.4,612.4 569.4,588.2 578.4,578.8 587.4,634.0 596.4,634.0"/>
<polyline fill="none" stroke="#b45bd0" stroke-width="1.0" stroke-linejoin="round" points="10.0,602.7 11.7,602.1 20.7,599.6 29.7,599.0 38.7,600.2 47.7,606.7 56.7,601.7 65.7,610.8 74.7,601.7 83.7,602.7 92.7,599.2 101.6,602.1 110.6,600.6 119.6,594.2 128.6,593.2 137.6,593.2 146.6,596.2 155.6,592.6 164.6,598.2 173.6,601.1 182.6,595.6 191.6,595.6 200.6,589.5 209.6,587.5 218.6,580.0 227.6,578.4 236.6,578.4 245.6,578.4 254.6,581.8 263.6,581.8 272.6,572.3 281.5,574.8 290.5,586.1 299.5,586.1 308.5,590.1 317.5,580.4 326.5,582.4 335.5,581.0 344.5,582.4 353.5,582.4 362.5,574.8 371.5,570.3 380.5,575.0 389.5,577.4 398.5,577.4 407.5,577.2 416.5,571.3 425.5,575.4 434.5,579.4 443.5,578.0 452.5,587.5 461.4,587.5 470.4,585.1 479.4,586.5 488.4,581.4 497.4,583.4 506.4,576.0 515.4,576.0 524.4,580.4 533.4,608.6 542.4,608.2 551.4,608.2 560.4,611.1 569.4,588.2 578.4,580.5 587.4,634.0 596.4,634.0"/>
<polyline fill="none" stroke="#5cb85c" stroke-width="1.0" stroke-linejoin="round" points="10.0,598.6 11.7,598.2 20.7,597.6 29.7,597.2 38.7,597.2 47.7,601.1 56.7,597.2 65.7,601.7 74.7,595.6 83.7,595.6 92.7,593.2 101.6,594.6 110.6,594.2 119.6,590.5 128.6,590.1 137.6,590.1 146.6,591.5 155.6,588.9 164.6,591.5 173.6,593.2 182.6,589.5 191.6,589.1 200.6,585.5 209.6,584.5 218.6,580.0 227.6,579.4 236.6,579.4 245.6,579.4 254.6,581.4 263.6,581.4 272.6,575.4 281.5,577.0 290.5,584.1 299.5,584.1 308.5,586.5 317.5,580.4 326.5,581.4 335.5,580.4 344.5,581.4 353.5,581.4 362.5,576.4 371.5,573.9 380.5,577.4 389.5,579.0 398.5,579.0 407.5,579.2 416.5,575.0 425.5,578.0 434.5,581.4 443.5,580.4 452.5,587.1 461.4,587.1 470.4,585.5 479.4,586.5 488.4,583.0 497.4,584.5 506.4,579.4 515.4,579.4 524.4,582.2 533.4,608.1 542.4,607.6 551.4,607.6 560.4,609.9 569.4,588.2 578.4,581.3 587.4,634.0 596.4,634.0"/>
</g>
<line x1="10" y1="350.5" x2="631.5" y2="350.5" stroke="#111" stroke-width="1.15"/>
<line x1="631.5" y1="350.5" x2="683.5" y2="350.5" stroke="#333" stroke-width="1.15"/>
<line x1="10" y1="447.2" x2="631.5" y2="447.2" stroke="#111" stroke-width="1.15"/>
<line x1="631.5" y1="447.2" x2="683.5" y2="447.2" stroke="#333" stroke-width="1.15"/>
<line x1="10" y1="545.7" x2="631.5" y2="545.7" stroke="#111" stroke-width="1.15"/>
<line x1="631.5" y1="545.7" x2="683.5" y2="545.7" stroke="#333" stroke-width="1.15"/>
<line x1="10" y1="642.4" x2="631" y2="642.4" stroke="#c8c8c8" stroke-width="1.1"/>
<line x1="631" y1="642.5" x2="683.5" y2="642.5" stroke="#333" stroke-width="1.15"/>
<line x1="631.6" y1="29" x2="631.6" y2="665.5" stroke="#333" stroke-width="1.25"/>
<line x1="272.5" y1="642" x2="272.5" y2="644.8" stroke="#888" stroke-width="1"/>
<text x="273.4" y="653.7" font-size="9.3" text-anchor="middle" fill="#222">2月</text>
<line x1="488.5" y1="642" x2="488.5" y2="644.8" stroke="#888" stroke-width="1"/>
<text x="489.4" y="653.7" font-size="9.3" text-anchor="middle" fill="#222">3月</text>
<line x1="631.6" y1="63.5" x2="634.8" y2="63.5" stroke="#777" stroke-width="1"/>
<text x="636.4" y="66.7" font-size="9.6" fill="#222" textLength="26.9" lengthAdjust="spacing">0.7159</text>
<line x1="631.6" y1="110.3" x2="634.8" y2="110.3" stroke="#777" stroke-width="1"/>
<text x="636.4" y="113.5" font-size="9.6" fill="#222" textLength="26.9" lengthAdjust="spacing">0.7059</text>
<line x1="631.6" y1="156.5" x2="634.8" y2="156.5" stroke="#777" stroke-width="1"/>
<text x="636.4" y="159.7" font-size="9.6" fill="#222" textLength="26.9" lengthAdjust="spacing">0.6959</text>
<line x1="631.6" y1="203.3" x2="634.8" y2="203.3" stroke="#777" stroke-width="1"/>
<text x="636.4" y="206.5" font-size="9.6" fill="#222" textLength="26.9" lengthAdjust="spacing">0.6859</text>
<line x1="631.6" y1="249.5" x2="634.8" y2="249.5" stroke="#777" stroke-width="1"/>
<text x="636.4" y="252.7" font-size="9.6" fill="#222" textLength="26.9" lengthAdjust="spacing">0.6759</text>
<line x1="631.6" y1="342.5" x2="634.8" y2="342.5" stroke="#777" stroke-width="1"/>
<text x="636.4" y="345.7" font-size="9.6" fill="#222" textLength="26.9" lengthAdjust="spacing">0.6559</text>
<line x1="631.6" y1="393.4" x2="634.8" y2="393.4" stroke="#777" stroke-width="1"/>
<text x="636.3" y="396.6" font-size="9.6" fill="#222" textLength="26.73" lengthAdjust="spacing">0.0036</text>
<line x1="631.6" y1="439.8" x2="634.8" y2="439.8" stroke="#777" stroke-width="1"/>
<text x="636.5" y="443.0" font-size="9.6" fill="#222" textLength="29.330000000000002" lengthAdjust="spacing">-0.0055</text>
<line x1="631.6" y1="491.3" x2="634.8" y2="491.3" stroke="#777" stroke-width="1"/>
<text x="636.3" y="494.5" font-size="9.6" fill="#222" textLength="31.950000000000003" lengthAdjust="spacing">66.6270</text>
<line x1="631.6" y1="537.8" x2="634.8" y2="537.8" stroke="#777" stroke-width="1"/>
<text x="636.5" y="541.0" font-size="9.6" fill="#222" textLength="34.28" lengthAdjust="spacing">-11.1721</text>
<line x1="631.6" y1="588.3" x2="634.8" y2="588.3" stroke="#777" stroke-width="1"/>
<text x="636.3" y="591.5" font-size="9.6" fill="#222" textLength="32.15" lengthAdjust="spacing">56.4251</text>
<line x1="631.6" y1="634.8" x2="634.8" y2="634.8" stroke="#777" stroke-width="1"/>
<text x="636.5" y="638.0" font-size="9.6" fill="#222" textLength="29.330000000000002" lengthAdjust="spacing">-0.7470</text>
<rect x="633" y="292" width="50.2" height="12.9" fill="#ee1100"/>
<text x="636.4" y="301.7" font-size="9.6" fill="#fff" textLength="26.9" lengthAdjust="spacing">0.6654</text>
<line x1="633" y1="298.5" x2="635.8" y2="298.5" stroke="#fff" stroke-width="1" stroke-opacity="0.85"/>
<text x="17.1" y="46.8" font-size="12" fill="#2b2b2b" stroke="#2b2b2b" stroke-width="0.15">开:</text>
<text x="33.9" y="46.8" font-size="12" fill="#f82408" textLength="37.6" lengthAdjust="spacing">0.6620</text>
<text x="80.6" y="46.8" font-size="12" fill="#2b2b2b" stroke="#2b2b2b" stroke-width="0.15">高:</text>
<text x="97.3" y="46.8" font-size="12" fill="#f82408" textLength="37.6" lengthAdjust="spacing">0.6655</text>
<text x="144.6" y="46.8" font-size="12" fill="#2b2b2b" stroke="#2b2b2b" stroke-width="0.15">低:</text>
<text x="160.7" y="46.8" font-size="12" fill="#f82408" textLength="37.6" lengthAdjust="spacing">0.6608</text>
<text x="208.3" y="46.8" font-size="12" fill="#2b2b2b" stroke="#2b2b2b" stroke-width="0.15">收:</text>
<text x="224.2" y="46.8" font-size="12" fill="#f82408" textLength="37.6" lengthAdjust="spacing">0.6654</text>
<text x="17.7" y="61" font-size="12" fill="#ea4a7c" stroke="#ea4a7c" stroke-width="0.15" textLength="72.45" lengthAdjust="spacing">MA5: 0.6640</text>
<text x="100.0" y="61" font-size="12" fill="#35c5dc" stroke="#35c5dc" stroke-width="0.15" textLength="79.9" lengthAdjust="spacing">MA10: 0.6646</text>
<text x="189.6" y="61" font-size="12" fill="#b552c9" stroke="#b552c9" stroke-width="0.15" textLength="79.32" lengthAdjust="spacing">MA20: 0.6705</text>
<text x="18.0" y="364.8" font-size="12" fill="#1fa31f" stroke="#1fa31f" stroke-width="0.15" textLength="39.07" lengthAdjust="spacing">MACD:</text>
<text x="60.2" y="364.8" font-size="12" fill="#1fa31f" stroke="#1fa31f" stroke-width="0.15" textLength="41.5" lengthAdjust="spacing">-0.0054</text>
<text x="112.3" y="364.8" font-size="12" fill="#4a9fea" stroke="#4a9fea" stroke-width="0.15" textLength="27.2" lengthAdjust="spacing">DIFF:</text>
<text x="142.4" y="364.8" font-size="12" fill="#4a9fea" stroke="#4a9fea" stroke-width="0.15" textLength="41.5" lengthAdjust="spacing">-0.0042</text>
<text x="194.5" y="364.8" font-size="12" fill="#f47920" stroke="#f47920" stroke-width="0.15" textLength="26.22" lengthAdjust="spacing">DEA:</text>
<text x="223.4" y="364.8" font-size="12" fill="#f47920" stroke="#f47920" stroke-width="0.15" textLength="41.3" lengthAdjust="spacing">-0.0014</text>
<text x="18.0" y="462.8" font-size="12" fill="#30c0d8" stroke="#30c0d8" stroke-width="0.15" textLength="9.54" lengthAdjust="spacing">K:</text>
<text x="29.9" y="462.8" font-size="12" fill="#30c0d8" stroke="#30c0d8" stroke-width="0.15" textLength="42.79" lengthAdjust="spacing">28.3001</text>
<text x="84.5" y="462.8" font-size="12" fill="#8a5ccc" stroke="#8a5ccc" stroke-width="0.15" textLength="11.6" lengthAdjust="spacing">D:</text>
<text x="98.1" y="462.8" font-size="12" fill="#8a5ccc" stroke="#8a5ccc" stroke-width="0.15" textLength="43.39" lengthAdjust="spacing">33.1702</text>
<text x="151.2" y="462.8" font-size="12" fill="#5cb85c" stroke="#5cb85c" stroke-width="0.15" textLength="8.94" lengthAdjust="spacing">J:</text>
<text x="162.2" y="462.8" font-size="12" fill="#5cb85c" stroke="#5cb85c" stroke-width="0.15" textLength="42.39" lengthAdjust="spacing">18.5599</text>
<text x="18.3" y="559.8" font-size="12" fill="#f87420" stroke="#f87420" stroke-width="0.15" textLength="34.62" lengthAdjust="spacing">RSI(6):</text>
<text x="55.6" y="559.8" font-size="12" fill="#f87420" stroke="#f87420" stroke-width="0.15" textLength="42.99" lengthAdjust="spacing">27.8845</text>
<text x="109.6" y="559.8" font-size="12" fill="#b45bd0" stroke="#b45bd0" stroke-width="0.15" textLength="42.29" lengthAdjust="spacing">RSI(12):</text>
<text x="154.4" y="559.8" font-size="12" fill="#b45bd0" stroke="#b45bd0" stroke-width="0.15" textLength="42.99" lengthAdjust="spacing">32.8419</text>
<text x="209.1" y="559.8" font-size="12" fill="#5cb85c" stroke="#5cb85c" stroke-width="0.15" textLength="42.69" lengthAdjust="spacing">RSI(24):</text>
<text x="253.1" y="559.8" font-size="12" fill="#5cb85c" stroke="#5cb85c" stroke-width="0.15" textLength="43.59" lengthAdjust="spacing">40.4533</text>
</svg></body></html>
